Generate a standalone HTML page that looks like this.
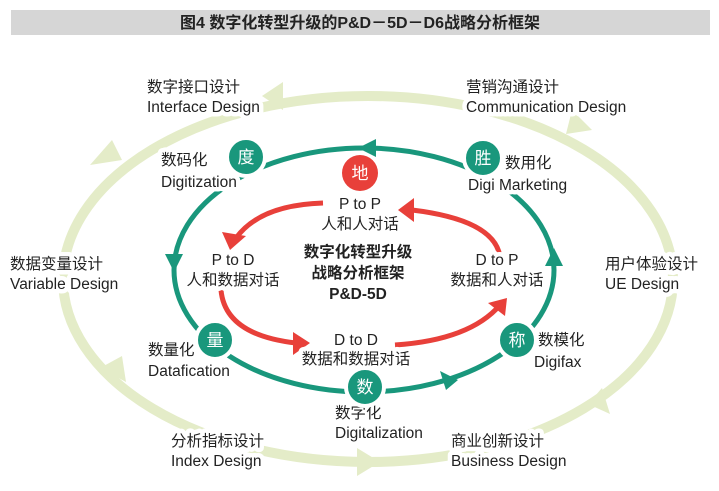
<!DOCTYPE html>
<html><head><meta charset="utf-8"><style>
body{margin:0;background:#fff;width:719px;height:491px;overflow:hidden}
svg{display:block}
text{font-family:"Liberation Sans","Noto Sans CJK SC",sans-serif;fill:#222;font-size:15.5px}
.h text{stroke:#fff;stroke-width:9px;paint-order:stroke;stroke-linejoin:round}
.c{fill:#fff;font-size:17px;text-anchor:middle}
</style></head><body>
<svg width="719" height="491" viewBox="0 0 719 491">
<rect x="11" y="10" width="699" height="25" fill="#d6d6d6"/>
<text x="360" y="28" text-anchor="middle" style="font-size:16px;font-weight:bold">图4  数字化转型升级的P&amp;D－5D－D6战略分析框架</text>
<ellipse cx="368" cy="279" rx="305" ry="183" fill="none" stroke="#e4ecc8" stroke-width="10"/>
<g fill="#e4ecc8">
<polygon points="262,96 283,82 283,110"/>
<polygon points="380,462 357,448 357,476"/>
<polygon points="90,165 112,140 122,160"/>
<polygon points="592,130 572,110 566,134"/>
<polygon points="126,382 100,368 122,356"/>
<polygon points="602,388 610,414 588,404"/>
</g>
<ellipse cx="364" cy="270" rx="190" ry="122" fill="none" stroke="#19977c" stroke-width="5"/>
<g fill="#19977c">
<polygon points="358,148 376,139 376,157"/>
<polygon points="174,272 165,254 183,254"/>
<polygon points="554,248 545,266 563,266"/>
<polygon points="458,380 440,371 446,390"/>
</g>
<g fill="none" stroke="#e8403a" stroke-width="5">
<path d="M323,203 Q260,205 236,238"/>
<path d="M221,290 Q225,335 296,343"/>
<path d="M395,345 Q470,340 500,305"/>
<path d="M500,257 Q495,220 412,210"/>
</g>
<g fill="#e8403a">
<polygon points="230,250 222,232 246,236"/>
<polygon points="310,343 293,332 293,355"/>
<polygon points="507,298 488,303 505,316"/>
<polygon points="398,210 414,198 414,222"/>
</g>
<g class="h">
<text x="147" y="92">数字接口设计</text><text x="147" y="112">Interface Design</text>
<text x="466" y="92">营销沟通设计</text><text x="466" y="112">Communication Design</text>
<text x="161" y="165">数码化</text><text x="161" y="187">Digitization</text>
<text x="505" y="168">数用化</text><text x="468" y="190">Digi Marketing</text>
<text x="10" y="269">数据变量设计</text><text x="10" y="289">Variable Design</text>
<text x="605" y="269">用户体验设计</text><text x="605" y="289">UE Design</text>
<text x="148" y="355">数量化</text><text x="148" y="376">Datafication</text>
<text x="538" y="345">数模化</text><text x="534" y="367">Digifax</text>
<text x="335" y="418">数字化</text><text x="335" y="438">Digitalization</text>
<text x="171" y="446">分析指标设计</text><text x="171" y="466">Index Design</text>
<text x="451" y="446">商业创新设计</text><text x="451" y="466">Business Design</text>
<g text-anchor="middle">
<text x="360" y="209">P to P</text><text x="360" y="229">人和人对话</text>
<text x="233" y="265">P to D</text><text x="233" y="285">人和数据对话</text>
<text x="497" y="265">D to P</text><text x="497" y="285">数据和人对话</text>
<text x="356" y="345">D to D</text><text x="356" y="364">数据和数据对话</text>
</g>
</g>
<g text-anchor="middle" style="font-weight:bold"><text x="358" y="257">数字化转型升级</text><text x="358" y="278">战略分析框架</text><text x="358" y="299">P&amp;D-5D</text></g>
<g>
<circle cx="246" cy="157" r="19" fill="#19977c" stroke="#fff" stroke-width="4"/><text class="c" x="246" y="163">度</text>
<circle cx="483" cy="158" r="19" fill="#19977c" stroke="#fff" stroke-width="4"/><text class="c" x="483" y="164">胜</text>
<circle cx="215" cy="340" r="19" fill="#19977c" stroke="#fff" stroke-width="4"/><text class="c" x="215" y="346">量</text>
<circle cx="517" cy="340" r="19" fill="#19977c" stroke="#fff" stroke-width="4"/><text class="c" x="517" y="346">称</text>
<circle cx="365" cy="387" r="19" fill="#19977c" stroke="#fff" stroke-width="4"/><text class="c" x="365" y="393">数</text>
<circle cx="360" cy="173" r="18" fill="#e8403a"/><text class="c" x="360" y="179">地</text>
</g>
</svg>
</body></html>
